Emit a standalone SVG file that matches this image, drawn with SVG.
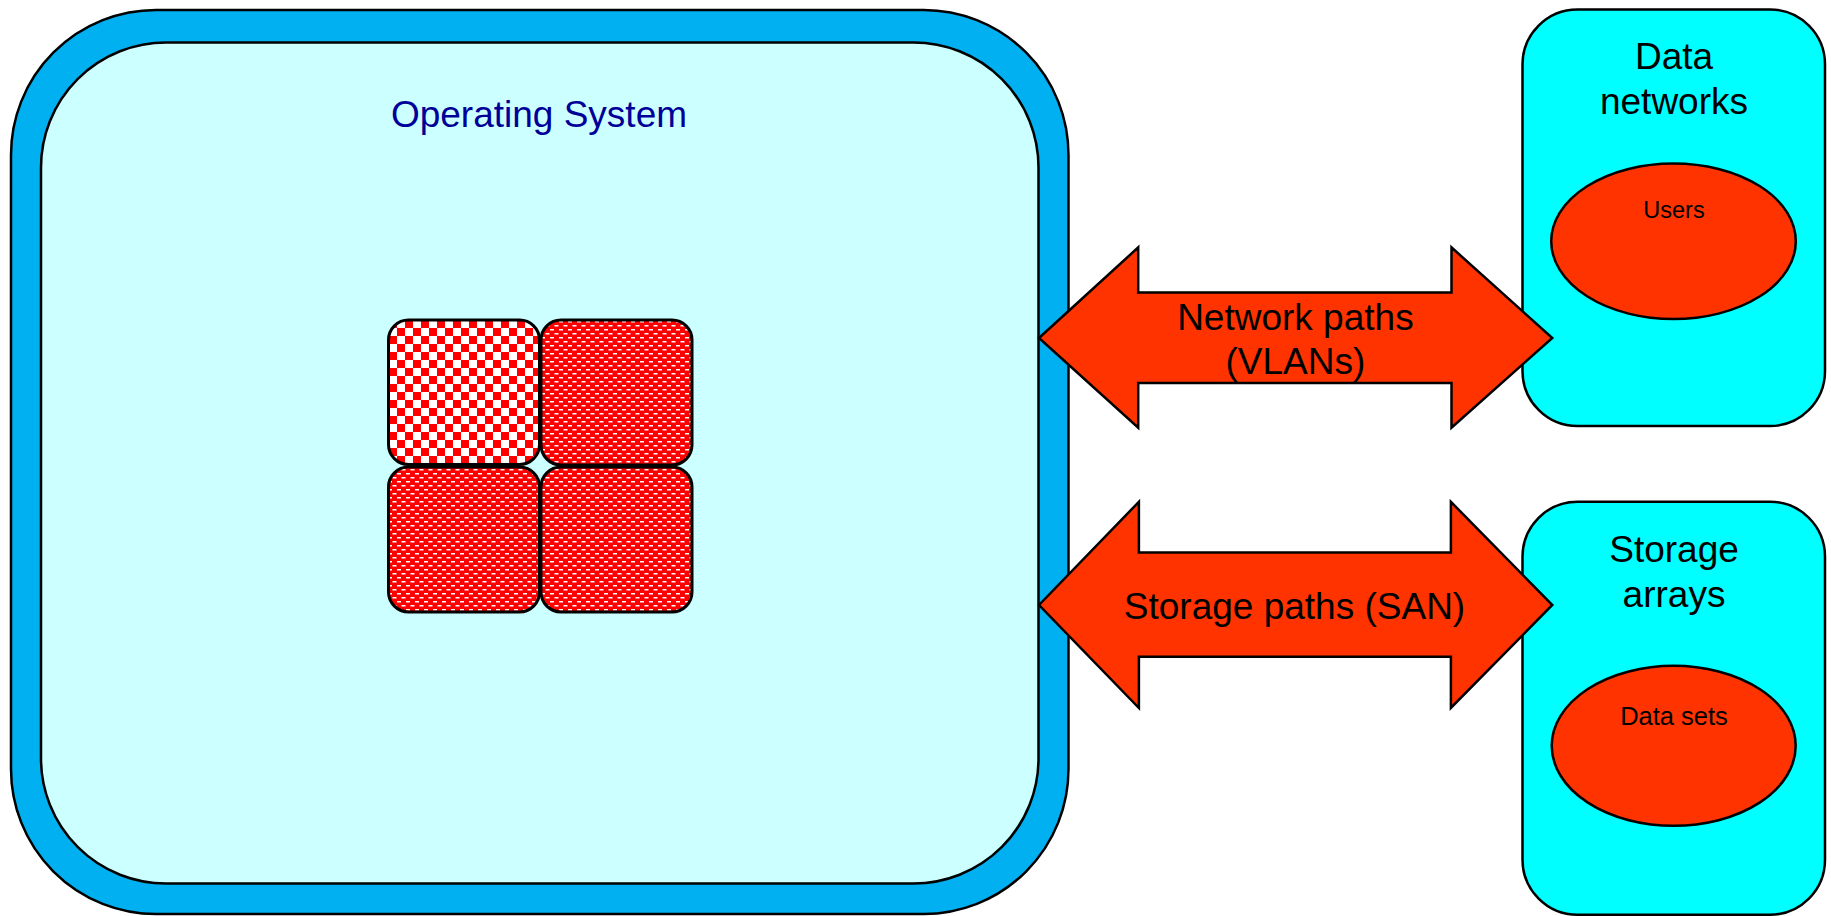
<svg xmlns="http://www.w3.org/2000/svg" width="1831" height="916" viewBox="0 0 1831 916">
<defs>
<style>
.big{font-family:"Liberation Sans",Arial,sans-serif;font-size:37px;fill:#000;text-anchor:middle}
.small{font-family:"Liberation Sans",Arial,sans-serif;fill:#000;text-anchor:middle}
.os{font-family:"Liberation Sans",Arial,sans-serif;font-size:37px;fill:#000099;text-anchor:middle}
.side{fill:#00FFFF;stroke:#000;stroke-width:2.5}
.ell{fill:#FF3300;stroke:#000;stroke-width:2.5}
.arrow{fill:#FF3300;stroke:#000;stroke-width:2.5;stroke-linejoin:miter}
.tile{stroke:#000;stroke-width:3}
</style>
<pattern id="checker" patternUnits="userSpaceOnUse" x="421" y="320" width="16" height="16">
<rect width="16" height="16" fill="#FFFFFF"/>
<rect x="0" y="0" width="8" height="8" fill="#FF0000"/>
<rect x="8" y="8" width="8" height="8" fill="#FF0000"/>
</pattern>
<pattern id="brick" patternUnits="userSpaceOnUse" x="0" y="0" width="9" height="8">
<rect width="9" height="8" fill="#FF0000"/>
<rect x="1" y="1" width="4" height="1.5" fill="#FFFFFF"/>
<rect x="5.5" y="5" width="4" height="1.5" fill="#FFFFFF"/>
<rect x="-3.5" y="5" width="4" height="1.5" fill="#FFFFFF"/>
</pattern>
</defs>
<rect width="1831" height="916" fill="#FFFFFF"/>
<g id="os">
<rect x="11" y="10" width="1057.5" height="904" rx="145" ry="145" fill="#00B0F0" stroke="#000" stroke-width="2.5"/>
<rect x="41" y="42.5" width="997.5" height="841" rx="125" ry="125" fill="#CCFFFF" stroke="#000" stroke-width="2.5"/>
<text class="os" x="539" y="126.7">Operating System</text>
</g>
<g id="tiles">
<rect class="tile" x="388.5" y="320" width="151" height="144.5" rx="20" fill="url(#checker)"/>
<rect class="tile" x="541" y="320" width="151" height="145" rx="20" fill="url(#brick)"/>
<rect class="tile" x="388.5" y="467" width="151" height="145" rx="20" fill="url(#brick)"/>
<rect class="tile" x="541" y="467" width="151" height="145" rx="20" fill="url(#brick)"/>
</g>
<g id="data-networks">
<rect class="side" x="1522.5" y="9.5" width="302.5" height="416.5" rx="55" ry="55"/>
<text class="big" x="1674" y="69.3">Data</text>
<text class="big" x="1674" y="114.3">networks</text>
<ellipse class="ell" cx="1673.5" cy="241.3" rx="122.3" ry="77.8"/>
<text class="small" x="1674" y="218.3" font-size="23.5">Users</text>
</g>
<g id="storage-arrays">
<rect class="side" x="1522.5" y="501.7" width="302.5" height="413" rx="55" ry="55"/>
<text class="big" x="1674" y="561.7">Storage</text>
<text class="big" x="1674" y="606.7">arrays</text>
<ellipse class="ell" cx="1673.7" cy="745.8" rx="122" ry="80"/>
<text class="small" x="1674" y="725" font-size="25.5">Data sets</text>
</g>
<g id="connectors">
<g id="network-paths">
<polygon class="arrow" points="1039,338 1138.2,247.4 1138.2,292.4 1451.5,292.4 1451.5,247.4 1552.3,338 1451.5,427.6 1451.5,383 1138.2,383 1138.2,427.6"/>
<text class="big" x="1295.4" y="329.6">Network paths</text>
<text class="big" x="1295.4" y="373.5">(VLANs)</text>
</g>
<g id="storage-paths">
<polygon class="arrow" points="1039,605 1138.9,501.8 1138.9,552.5 1450.9,552.5 1450.9,501.8 1552.3,605 1450.9,708 1450.9,656.7 1138.9,656.7 1138.9,708"/>
<text class="big" x="1294.5" y="618.5">Storage paths (SAN)</text>
</g>
</g>
</svg>
